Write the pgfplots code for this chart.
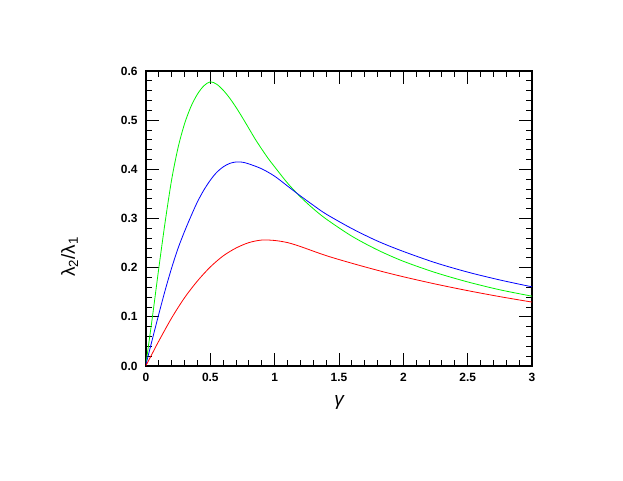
\documentclass[border=0pt]{standalone}
\usepackage{fontspec}
\setmainfont{Liberation Sans}
\usepackage{pgfplots}
\pgfplotsset{compat=1.18}

\begin{document}
\begin{tikzpicture}
\useasboundingbox (-146bp,-115bp) rectangle (477bp,366bp);
\begin{axis}[
    scale only axis,
    width=386bp, height=295bp,
    xmin=0, xmax=3, ymin=0, ymax=0.6,
    xtick={0,0.5,...,3},
    ytick={0,0.1,...,0.6},
    yticklabel style={/pgf/number format/fixed, /pgf/number format/fixed zerofill, /pgf/number format/precision=1},
    /pgf/number format/assume math mode=true,
    minor x tick num=4, minor y tick num=4,
    tick align=inside,
    major tick length=13bp, minor tick length=6bp,
    every tick/.style={black, line width=0.9bp},
    axis line style={line width=1.1bp},
    ticklabel style={font=\bfseries\fontsize{12}{14}\selectfont},
    xticklabel style={yshift=-4bp},
    yticklabel style={xshift=-5bp},
    xlabel={\itshape γ},
    ylabel={λ\textsubscript{2}/λ\textsubscript{1}},
    label style={font=\fontsize{19}{22}\selectfont},
    xlabel style={at={(axis description cs:0.5,-0.125)}, anchor=center},
    ylabel style={at={(axis description cs:-0.198,0.37)}, anchor=center, rotate=0},
    every axis plot/.append style={line width=0.8bp, smooth},
]
% green
\addplot[color={rgb,255:red,0;green,245;blue,0}] coordinates {
(0,0.005) (0.05,0.10) (0.1,0.20) (0.15,0.295) (0.2,0.38) (0.25,0.445) (0.3,0.493)
(0.35,0.528) (0.4,0.553) (0.45,0.570) (0.5,0.578) (0.55,0.573) (0.6,0.561)
(0.65,0.545) (0.7,0.526) (0.75,0.505) (0.8,0.483) (0.85,0.461) (0.9,0.441)
(0.95,0.422) (1.0,0.405) (1.1,0.372) (1.2,0.344) (1.3,0.320) (1.4,0.299)
(1.6,0.264) (1.8,0.236) (2.0,0.213) (2.25,0.190) (2.5,0.171) (2.75,0.155) (3,0.142)
};
% blue
\addplot[color=blue] coordinates {
(0,0.003) (0.05,0.055) (0.1,0.106) (0.15,0.155) (0.2,0.200) (0.25,0.240) (0.3,0.274)
(0.35,0.305) (0.4,0.334) (0.45,0.358) (0.5,0.378) (0.55,0.394) (0.6,0.405)
(0.65,0.412) (0.7,0.415) (0.75,0.4145) (0.8,0.411) (0.9,0.401) (1.0,0.386)
(1.1,0.366) (1.2,0.346) (1.3,0.327) (1.4,0.309) (1.6,0.2795) (1.8,0.254) (2.0,0.233)
(2.25,0.210) (2.5,0.191) (2.75,0.175) (3,0.161)
};
% red
\addplot[color=red] coordinates {
(0,0.001) (0.05,0.026) (0.1,0.051) (0.2,0.098) (0.3,0.139) (0.4,0.173)
(0.5,0.2015) (0.6,0.224) (0.7,0.240) (0.8,0.251) (0.9,0.2562) (1.0,0.2553)
(1.1,0.251) (1.2,0.243) (1.4,0.2245) (1.6,0.209) (1.8,0.1946) (2.0,0.1815)
(2.25,0.1667) (2.5,0.1533) (2.75,0.1411) (3,0.130)
};
\end{axis}
\end{tikzpicture}
\end{document}
